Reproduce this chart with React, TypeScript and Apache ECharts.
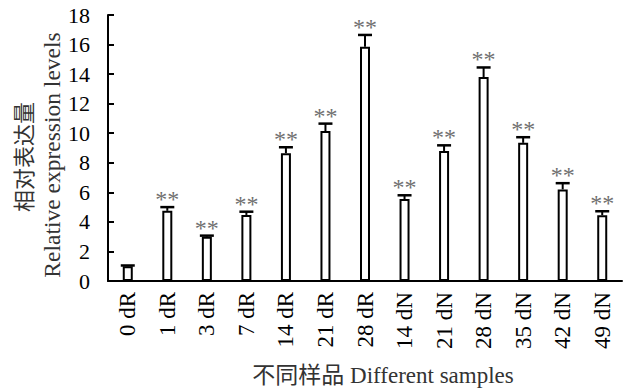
import React, { useEffect, useRef } from "react";
import * as echarts from "echarts";

const categories = ["0 dR", "1 dR", "3 dR", "7 dR", "14 dR", "21 dR", "28 dR", "14 dN", "21 dN", "28 dN", "35 dN", "42 dN", "49 dN"];
const values = [1.0, 4.75, 3.0, 4.47, 8.65, 10.15, 15.85, 5.55, 8.8, 13.8, 9.35, 6.2, 4.45];
const errors = [0.05, 0.25, 0.07, 0.22, 0.4, 0.5, 0.8, 0.25, 0.38, 0.65, 0.38, 0.42, 0.27];
const marks = ["", "**", "**", "**", "**", "**", "**", "**", "**", "**", "**", "**", "**"];
const yTicks = { min: 0, max: 18, interval: 2 };

const SERIF = "'Liberation Serif', 'Times New Roman', 'Noto Sans CJK SC', serif";
const CJK = "'Liberation Serif', 'Noto Sans CJK SC', serif";

export default function App() {
  const ref = useRef<HTMLDivElement>(null);
  useEffect(() => {
    if (!ref.current) return;
    const chart = echarts.init(ref.current, null, { renderer: "svg" });
    const option: any = {
      animation: false,
      backgroundColor: "#fff",
      grid: { left: 108, right: 6, top: 15, bottom: 108, containLabel: false },
      xAxis: {
        type: "category",
        data: categories,
        axisLine: { lineStyle: { color: "#000", width: 2 } },
        axisTick: { inside: true, length: 5, lineStyle: { color: "#000", width: 2 } },
        axisLabel: { rotate: 90, fontSize: 23, fontFamily: SERIF, color: "#000", margin: 11 },
      },
      yAxis: {
        type: "value",
        min: yTicks.min,
        max: yTicks.max,
        interval: yTicks.interval,
        splitLine: { show: false },
        axisLine: { show: true, lineStyle: { color: "#000", width: 2 } },
        axisTick: { show: true, inside: true, length: 6, lineStyle: { color: "#000", width: 2 } },
        axisLabel: { fontSize: 22, fontFamily: SERIF, color: "#000", margin: 18 },
      },
      graphic: [
        {
          type: "text",
          x: 24,
          y: 157,
          rotation: Math.PI / 2,
          style: { text: "相对表达量", fontSize: 22, fontFamily: CJK, fill: "#333", align: "center", verticalAlign: "middle" },
        },
        {
          type: "text",
          x: 52,
          y: 155,
          rotation: Math.PI / 2,
          style: { text: "Relative expression levels", fontSize: 23.5, fontFamily: SERIF, fill: "#333", align: "center", verticalAlign: "middle" },
        },
        {
          type: "text",
          x: 383,
          y: 375,
          style: { text: "不同样品 Different samples", fontSize: 23, fontFamily: CJK, fill: "#333", align: "center", verticalAlign: "middle" },
        },
      ],
      series: [
        {
          type: "bar",
          data: values,
          barWidth: 10,
          itemStyle: { color: "#fff", borderColor: "#000", borderWidth: 2 },
          z: 2,
        },
        {
          type: "custom",
          z: 3,
          clip: false,
          data: categories.map((c, i) => [i, values[i], errors[i]]),
          encode: { x: 0, y: 1 },
          renderItem: (params: any, api: any) => {
            const i = params.dataIndex;
            const v = values[i];
            const e = errors[i];
            const base = api.coord([i, v]);
            const top = api.coord([i, v + e]);
            const children: any[] = [
              { type: "line", shape: { x1: base[0], y1: base[1], x2: top[0], y2: top[1] }, style: { stroke: "#000", lineWidth: 2 } },
              { type: "line", shape: { x1: top[0] - 7, y1: top[1], x2: top[0] + 7, y2: top[1] }, style: { stroke: "#000", lineWidth: 2.5 } },
            ];
            if (marks[i]) {
              children.push({
                type: "text",
                x: top[0],
                y: top[1] + 4,
                style: { text: marks[i], fontSize: 24, fontFamily: SERIF, fill: "#707070", align: "center", verticalAlign: "bottom" },
              });
            }
            return { type: "group", children };
          },
        },
      ],
    };
    chart.setOption(option);
    return () => chart.dispose();
  }, []);
  return <div ref={ref} style={{ position: "fixed", left: 0, top: 0, width: 628, height: 389 }} />;
}
